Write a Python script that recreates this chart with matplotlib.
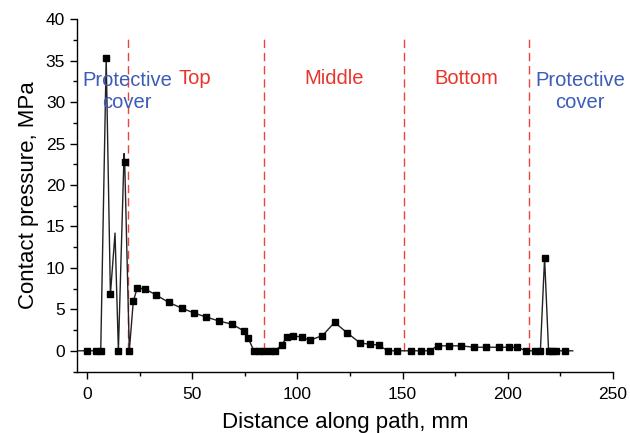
import matplotlib
matplotlib.use("Agg")
import matplotlib.pyplot as plt
from matplotlib.ticker import MultipleLocator
import numpy as np

plt.rcParams['font.family'] = ['Liberation Sans', 'DejaVu Sans']

# measured points (distance mm, contact pressure MPa); marker flag 1 = drawn with square marker
distance = [-4.5, 0.1, 4.0, 6.4, 9.0, 11.0, 13.2, 14.8, 17.5, 17.8, 20.0, 21.9, 23.8, 27.6,
            32.8, 38.7, 44.9, 50.9, 56.7, 62.9, 69.0, 74.8, 76.6, 79.3, 81.5, 84.2,
            86.8, 89.4, 92.7, 94.9, 97.7, 102.1, 105.8, 111.9, 117.7, 123.8, 129.9,
            134.6, 138.6, 142.9, 147.6, 153.8, 158.6, 162.9, 166.7, 172.0, 178.0,
            183.8, 189.5, 195.7, 200.9, 204.7, 208.7, 213.2, 215.6, 217.6, 219.5,
            221.2, 222.8, 227.5, 231.0]
pressure = [0, 0, 0, 0, 35.3, 6.8, 14.2, 0, 23.8, 22.8, 0, 6.0, 7.6, 7.45,
            6.72, 5.85, 5.15, 4.55, 4.06, 3.58, 3.2, 2.35, 1.5, 0, 0, 0,
            0, 0, 0.75, 1.7, 1.83, 1.65, 1.27, 1.83, 3.44, 2.13, 0.93,
            0.79, 0.7, 0, 0, 0, 0, 0, 0.6, 0.6, 0.6,
            0.43, 0.43, 0.43, 0.43, 0.43, 0, 0, 0, 11.2, 0,
            0, 0, 0, 0]
has_marker = [0, 1, 1, 1, 1, 1, 0, 1, 0, 1, 1, 1, 1, 1,
              1, 1, 1, 1, 1, 1, 1, 1, 1, 1, 1, 1,
              1, 1, 1, 1, 1, 1, 1, 1, 1, 1, 1,
              1, 1, 1, 1, 1, 1, 1, 1, 1, 1,
              1, 1, 1, 1, 1, 1, 1, 1, 1, 1,
              1, 1, 1, 0]

boundaries = [19.5, 84.0, 150.5, 210.0]
boundary_top = 38.0

region_labels = ["Protective\ncover", "Top", "Middle", "Bottom", "Protective\ncover"]
region_x = [19.0, 51.0, 117.4, 180.2, 234.6]
region_y = [31.3, 32.8, 32.8, 32.8, 31.3]
region_colors = ["#3d5cb8", "#e8352c", "#e8352c", "#e8352c", "#3d5cb8"]

fig = plt.figure(figsize=(6.3, 4.33), dpi=100)
ax = fig.add_axes([0.1222, 0.142, 0.8503, 0.8134])

x = np.array(distance)
y = np.array(pressure)
m = np.array(has_marker, dtype=bool)

for b in boundaries:
    ax.plot([b, b], [0, boundary_top], color="#e8453c", lw=1.0,
            linestyle=(0, (6, 3.5)), zorder=1)

ax.plot(x, y, color="#222222", lw=1.0, zorder=2)
ax.plot(x[m], y[m], linestyle="none", marker="s", markersize=4.6,
        color="black", zorder=3)

for lab, tx, ty, c in zip(region_labels, region_x, region_y, region_colors):
    ax.text(tx, ty, lab, color=c, fontsize=14.5, ha="center", va="center",
            linespacing=1.2, zorder=4)

ax.set_xlim(-4.9, 250)
ax.set_ylim(-2.5, 40)
ax.xaxis.set_major_locator(MultipleLocator(50))
ax.xaxis.set_minor_locator(MultipleLocator(25))
ax.yaxis.set_major_locator(MultipleLocator(5))
ax.yaxis.set_minor_locator(MultipleLocator(2.5))
ax.set_yticks(np.arange(0, 41, 5))

for s in ["top", "right"]:
    ax.spines[s].set_visible(False)
for s in ["left", "bottom"]:
    ax.spines[s].set_linewidth(1.0)

ax.tick_params(which="major", direction="out", length=5, width=1.0,
               labelsize=12.5, pad=3.5)
ax.tick_params(axis="x", which="major", pad=6.5)
ax.tick_params(which="minor", direction="out", length=3, width=1.0)

ax.set_xlabel("Distance along path, mm", fontsize=16, labelpad=7)
ax.set_ylabel("Contact pressure, MPa", fontsize=16, labelpad=5)

fig.savefig("out.png", dpi=100)
